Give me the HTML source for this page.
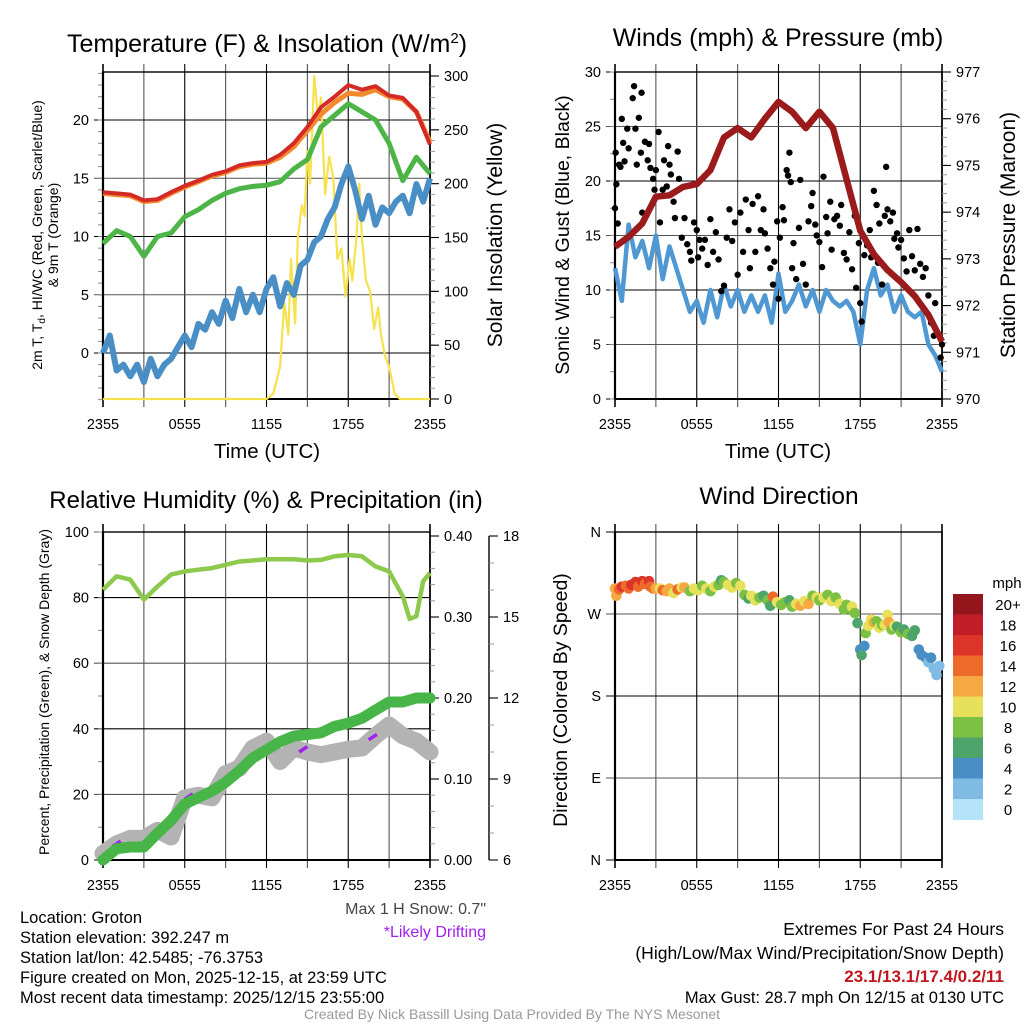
<!DOCTYPE html>
<html><head><meta charset="utf-8">
<style>
html,body{margin:0;padding:0;background:#fff;}
body{width:1024px;height:1024px;overflow:hidden;font-family:"Liberation Sans",sans-serif;}
svg text{font-family:"Liberation Sans",sans-serif;fill:#000;}
.nar{font-family:"Liberation Sans Narrow","Liberation Sans",sans-serif;}
</style></head>
<body>
<svg id="chart" width="1024" height="1024" viewBox="0 0 1024 1024" xmlns="http://www.w3.org/2000/svg">
<rect width="1024" height="1024" fill="#fff"/>
<g id="g1"></g>
<g id="g2"></g>
<g id="g3"></g>
<g id="g4"></g>
<g class="nar">
<text x="20" y="923" font-size="16.5" class="nar">Location: Groton</text>
<text x="20" y="943" font-size="16.5" class="nar">Station elevation: 392.247 m</text>
<text x="20" y="963" font-size="16.5" class="nar">Station lat/lon: 42.5485; -76.3753</text>
<text x="20" y="983" font-size="16.5" class="nar">Figure created on Mon, 2025-12-15, at 23:59 UTC</text>
<text x="20" y="1003" font-size="16.5" class="nar">Most recent data timestamp: 2025/12/15 23:55:00</text>
<text x="486" y="914" font-size="16" text-anchor="end" style="fill:#444" class="nar">Max 1 H Snow: 0.7"</text>
<text x="486" y="937" font-size="16" text-anchor="end" style="fill:#a020f0" class="nar">*Likely Drifting</text>
<text x="1004" y="935" font-size="17.5" text-anchor="end" class="nar">Extremes For Past 24 Hours</text>
<text x="1004" y="959" font-size="17.5" text-anchor="end" class="nar">(High/Low/Max Wind/Precipitation/Snow Depth)</text>
<text x="1004" y="982" font-size="17" text-anchor="end" font-weight="bold" style="fill:#c0171e" class="nar">23.1/13.1/17.4/0.2/11</text>
<text x="1004" y="1003" font-size="16.5" text-anchor="end" class="nar">Max Gust: 28.7 mph On 12/15 at 0130 UTC</text>
<text x="512" y="1019" font-size="14" text-anchor="middle" style="fill:#999" class="nar">Created By Nick Bassill Using Data Provided By The NYS Mesonet</text>
</g>
</svg>
<script>
// ---------- data ----------
const timeTickLabels = ["2355","0555","1155","1755","2355"];
const hours = [0,1,2,3,4,5,6,7,8,9,10,11,12,13,14,15,16,17,18,19,20,21,22,23,24];
const temp2m = [13.8,13.7,13.6,13.1,13.2,13.8,14.35,14.8,15.3,15.6,16.1,16.3,16.4,17.0,18.0,19.4,21.1,22.0,23.0,22.6,22.9,22.1,21.9,20.7,17.9];
const temp9m = [13.7,13.6,13.5,13.0,13.1,13.7,14.25,14.7,15.2,15.5,16.0,16.2,16.3,16.8,17.7,19.1,20.5,21.5,22.3,22.2,22.6,22.0,21.8,20.7,18.1];
const dewHiWc = [9.4,10.5,10.0,8.3,10.0,10.3,11.7,12.3,13.1,13.7,14.1,14.3,14.4,14.7,15.8,16.6,19.4,20.4,21.4,20.7,20.0,18.0,14.8,16.8,15.4];
const halfHours = [0,0.5,1,1.5,2,2.5,3,3.5,4,4.5,5,5.5,6,6.5,7,7.5,8,8.5,9,9.5,10,10.5,11,11.5,12,12.5,13,13.5,14,14.5,15,15.5,16,16.5,17,17.5,18,18.5,19,19.5,20,20.5,21,21.5,22,22.5,23,23.5,24];
const dewpoint = [0,1.5,-1.5,-1.0,-2.0,-1.0,-2.5,-0.5,-2.0,-1.0,-0.5,0.5,1.5,0.5,2.5,2.0,3.5,2.5,4.5,3.0,5.5,3.5,5.0,3.5,5.5,6.5,4.0,6.0,5.0,7.5,8.0,9.5,10.0,11.5,12.5,14.5,16.0,14.0,11.5,13.5,11.0,12.5,12.0,13.0,13.5,12.0,14.5,13.0,15.0];
const solarT = [0,12.0,12.5,13.0,13.3,13.6,13.8,14.1,14.3,14.6,14.8,15.0,15.2,15.5,15.8,16.0,16.3,16.6,16.9,17.2,17.5,17.8,18.1,18.3,18.6,18.8,19.0,19.3,19.6,19.9,20.2,20.4,20.7,21.0,21.4,21.8,24];
const solarV = [0,0,5,30,90,60,130,70,150,180,170,230,200,300,260,280,190,225,205,130,140,95,130,110,150,200,150,110,100,65,85,60,40,30,5,0,0];
const tempTicks = [0,5,10,15,20];
const solarTicks = [0,50,100,150,200,250,300];

const pressure = [973.26,973.47,973.76,974.33,974.36,974.54,974.6,974.9,975.6,975.8,975.6,976.0,976.36,976.15,975.8,976.15,975.8,974.7,973.6,973.1,972.76,972.5,972.2,971.8,971.23];
const windSpeed = [12,9,16,13,14.5,12,15,11,14,12,10,8,9,7,10,7.5,10.5,8.5,10,8,9.5,8,9.5,7,11.5,8,9,10.5,8.5,10,8,10,9,8.5,9,8,5,10,12,9.5,10.5,8,9.5,8,7.5,8,5,4,2.5];
const gustT = [0.0,0.05,0.1,0.2,0.3,0.4,0.5,0.6,0.7,0.9,1.0,1.3,1.4,1.5,1.6,1.75,1.95,1.9,2.0,2.2,2.4,2.5,2.6,2.8,2.9,3.0,3.2,3.3,3.5,3.6,3.8,3.9,4.0,4.1,4.3,4.4,4.6,4.7,4.9,5.1,5.3,5.5,5.6,5.8,6.0,6.1,6.2,6.4,6.6,6.8,7.0,7.2,7.4,7.6,7.8,8.0,8.2,8.4,8.6,8.8,9.0,9.2,9.4,9.6,9.8,9.9,10.1,10.3,10.5,10.7,10.9,11.0,11.2,11.4,11.6,11.7,11.9,12.0,12.1,12.3,12.4,12.6,12.7,12.8,12.9,13.0,13.1,13.3,13.5,13.6,13.8,14.0,14.2,14.4,14.5,14.7,14.8,15.0,15.2,15.3,15.5,15.6,15.8,15.9,16.1,16.3,16.5,16.6,16.8,17.0,17.2,17.4,17.6,17.7,17.9,18.0,18.1,18.3,18.5,18.7,18.8,19.0,19.2,19.3,19.4,19.6,19.8,19.9,20.0,20.2,20.4,20.5,20.7,20.8,21.0,21.2,21.4,21.6,21.8,22.0,22.2,22.4,22.6,22.8,23.0,23.2,23.4,23.5,23.7,23.9,24.0];
const gustV = [17.5,22.6,19.7,16.1,21.5,21.3,25.7,23.5,21.8,24.8,23.0,27.6,28.7,24.8,21.5,25.8,28.1,22.6,17.1,23.6,21.9,23.4,21.2,20.2,19.2,21.0,24.5,16.2,19.2,21.9,19.5,23.2,21.5,20.6,18.1,16.6,22.7,20.2,14.8,16.6,14.2,13.5,12.7,16.2,15.5,13.0,14.6,13.8,14.6,12.3,16.5,13.5,15.3,12.8,9.9,10.4,14.8,17.4,14.5,16.2,11.4,17.1,13.5,18.3,15.5,12.0,17.9,13.5,18.6,15.5,17.4,15.2,13.8,12.0,10.5,12.6,16.3,9.2,14.8,17.6,16.4,21.0,20.5,22.6,19.9,12.0,14.3,11.0,15.7,20.1,12.4,10.5,16.3,17.7,18.9,16.0,15.0,14.4,12.1,20.4,16.7,15.2,18.1,13.7,16.5,16.8,15.9,17.8,13.4,12.8,15.3,11.9,16.8,10.2,14.3,8.8,7.1,13.2,14.1,15.5,13.0,19.1,17.8,12.5,16.1,10.5,16.8,21.3,17.4,16.3,17.1,14.7,15.2,13.9,14.6,12.9,11.7,15.5,13.1,11.8,15.6,12.4,11.2,12.0,9.5,7.0,5.8,8.8,6.0,3.8,5.0];
const windTicks = [0,5,10,15,20,25,30];
const pressTicks = [970,971,972,973,974,975,976,977];

const rhT = [0,1,2,3,4,5,6,7,8,9,10,11,12,13,14,15,16,17,18,19,20,21,22,22.5,23,23.5,24];
const rhV = [82.4,86.5,85.5,79.4,83.4,87,88,88.5,89,90,91,91.3,91.7,91.7,91.7,91.3,91.5,92.6,93,92.6,89.5,88,80.4,73.5,74.3,85,87.5];
const precip = [0,0.014,0.016,0.016,0.033,0.049,0.069,0.077,0.085,0.096,0.11,0.126,0.136,0.146,0.153,0.155,0.157,0.165,0.169,0.175,0.185,0.195,0.195,0.2,0.2];
const snowDepth = [6.24,6.6,6.8,6.8,7.1,6.85,8.3,8.4,8.3,9.2,9.4,10.15,10.4,9.65,10.15,10.0,9.9,10.0,10.1,10.15,10.6,11.0,10.6,10.4,10.0];
const driftT = [1.0,6.3,9.5,14.7,19.8];
const driftV = [6.6,8.35,9.25,10.1,10.55];
const rhTicks = [0,20,40,60,80,100];
const precipTicks = [0,0.1,0.2,0.3,0.4];
const precipLabels = ["0.00","0.10","0.20","0.30","0.40"];
const snowTicks = [6,9,12,15,18];

const dirT = [0,0.1,0.3,0.5,0.8,1.0,1.2,1.5,1.7,2.0,2.2,2.5,2.6,2.8,3.0,3.3,3.5,3.8,4.0,4.3,4.6,4.9,5.1,5.5,5.8,6.1,6.4,6.7,7.0,7.3,7.6,7.8,8.0,8.3,8.6,8.9,9.2,9.5,9.8,10.0,10.3,10.6,10.9,11.2,11.4,11.6,11.9,12.2,12.5,12.8,13.0,13.3,13.6,13.9,14.2,14.5,14.8,15.0,15.3,15.6,15.9,16.2,16.5,16.8,17.0,17.2,17.4,17.6,17.8,18.0,18.1,18.3,18.4,18.6,18.8,19.0,19.2,19.4,19.6,19.8,20.0,20.1,20.3,20.5,20.7,21.0,21.2,21.5,21.8,22.0,22.3,22.5,22.8,23.0,23.2,23.4,23.6,23.8];
const dirV = [298,290,297,300,301,298,302,305,300,306,303,306,300,298,298,298,296,295,298,293,297,299,299,295,298,296,301,298,295,300,302,307,305,302,299,304,301,291,287,290,285,288,290,285,279,289,283,280,283,285,278,281,279,284,281,290,288,285,288,291,284,288,281,275,280,276,278,271,260,231,225,235,249,257,264,261,262,255,258,258,269,261,253,257,256,250,253,248,246,252,231,225,222,217,222,210,203,213];
const dirSpeed = [12,12,14,16,15,14,16,17,15,16,15,17,14,14,12,10,14,12,12,10,14,10,12,8,10,10,8,10,8,10,8,6,8,10,10,8,10,8,6,10,10,8,6,8,6,14,10,8,8,6,8,10,12,10,12,8,10,8,10,8,10,8,10,8,8,8,10,8,6,4,6,4,8,10,10,12,8,10,8,10,10,12,8,10,6,8,6,8,6,6,4,4,4,2,4,2,2,2];
const dirTicks = [0,90,180,270,360];
const dirLabels = ["N","E","S","W","N"];
const speedBinLabels = ["0","2","4","6","8","10","12","14","16","18","20+"];
const speedColors = ["#b5e3f7","#7fbbe3","#4a8ec6","#4da56b","#7cc144","#e6e05a","#f6a843","#ee6a2b","#dc3429","#c11d26","#92161b"];

// ---------- helpers ----------
const NS = "http://www.w3.org/2000/svg";
function mk(parent, tag, attrs){
  const e = document.createElementNS(NS, tag);
  for (const k in attrs) e.setAttribute(k, attrs[k]);
  parent.appendChild(e);
  return e;
}
function txt(parent, x, y, s, size, anchor, extra){
  const e = mk(parent, "text", Object.assign({x:x, y:y, "font-size":size, "text-anchor":anchor||"middle"}, extra||{}));
  e.textContent = s;
  return e;
}
function linear(d0,d1,r0,r1){ return v => r0 + (v-d0)*(r1-r0)/(d1-d0); }
function pathFrom(xs, ys, fx, fy){
  let d = "";
  for (let i=0;i<xs.length;i++) d += (i?"L":"M") + fx(xs[i]).toFixed(1) + "," + fy(ys[i]).toFixed(1);
  return d;
}
function frame(g, L, R, T, B, fx, yTicks, fy, yLabels, minorStep, yMin, yMax){
  for (let h=0; h<=24; h+=3){
    const x = fx(h);
    const gl = mk(g,"line",{x1:x,x2:x,y1:T-8,y2:B+8,stroke:(h%6===0)?"#000":"#555","stroke-width":(h===0||h===24)?1.6:1.1});
    
    
  }
  yTicks.forEach((v,i)=>{
    const y = fy(v);
    const hl = mk(g,"line",{x1:L-9,x2:R,y1:y,y2:y,stroke:(i%2)?"#555":"#000","stroke-width":1.1});
    
    
    const tl = txt(g, L-14, y+5, yLabels?yLabels[i]:String(v), 14.5, "end");
    
    
  });
  if (minorStep){
    for (let v=yMin; v<=yMax+1e-9; v+=minorStep){
      const y = fy(v);
      mk(g,"line",{x1:L-5,x2:L,y1:y,y2:y,stroke:"#888","stroke-width":1});
    }
  }
  const br = mk(g,"rect",{x:L,y:T,width:R-L,height:B-T,fill:"none",stroke:"#000","stroke-width":1.4});
  
  
  mk(g,"line",{x1:L,x2:L,y1:T,y2:B,stroke:"#000","stroke-width":2.2});
  mk(g,"line",{x1:L,x2:R,y1:B,y2:B,stroke:"#000","stroke-width":2});
  timeTickLabels.forEach((s,i)=>{
    const t = txt(g, fx(i*6), B+30, s, 14.5, "middle");
    
    
  });
}
function rightAxis(g, xAx, ticks, fy, labels, minorStep, vMin, vMax, lineTop, lineBot, drawLine){
  if (drawLine) mk(g,"line",{x1:xAx,x2:xAx,y1:lineTop,y2:lineBot,stroke:"#000","stroke-width":1.4});
  if (minorStep){
    for (let v=vMin; v<=vMax+1e-9; v+=minorStep){
      const y=fy(v);
      mk(g,"line",{x1:xAx,x2:xAx+5,y1:y,y2:y,stroke:"#999","stroke-width":1});
    }
  }
  ticks.forEach((v,i)=>{
    const y=fy(v);
    mk(g,"line",{x1:xAx,x2:xAx+9,y1:y,y2:y,stroke:"#000","stroke-width":1.1});
    const t = txt(g, xAx+14, y+5, labels?labels[i]:String(v), 14.5, "start");
    
    
  });
}

// ---------- Panel 1: Temperature ----------
(function(){
  const g = document.getElementById("g1");
  const L=103,R=430,T=72,B=399;
  const fx = linear(0,24,L,R), fy = linear(0,20,353,120), fs = linear(0,300,399,76);
  frame(g,L,R,T,B,fx,tempTicks,fy,null,1,-4,24);
  rightAxis(g,R,solarTicks,fs,null,10,0,300);
  const yl = mk(g,"path",{d:pathFrom(solarT,solarV,fx,fs),fill:"none",stroke:"#f7e14c","stroke-width":2.2,"stroke-linejoin":"round"});
  
  
  const bl = mk(g,"path",{d:pathFrom(halfHours,dewpoint,fx,fy),fill:"none",stroke:"#4a8ec6","stroke-width":6,"stroke-linejoin":"round"});
  
  
  const gl = mk(g,"path",{d:pathFrom(hours,dewHiWc,fx,fy),fill:"none",stroke:"#4db448","stroke-width":5,"stroke-linejoin":"round"});
  
  
  const ol = mk(g,"path",{d:pathFrom(hours,temp9m,fx,fy),fill:"none",stroke:"#f38a2d","stroke-width":5,"stroke-linejoin":"round"});
  
  
  const rl = mk(g,"path",{d:pathFrom(hours,temp2m,fx,fy),fill:"none",stroke:"#d42a26","stroke-width":4,"stroke-linejoin":"round"});
  
  
  const ti = txt(g,267,52,"",25,"middle");
  ti.innerHTML = 'Temperature (F) &amp; Insolation (W/m<tspan dy="-9" font-size="15">2</tspan><tspan dy="9">)</tspan>';
  
  
  const xl = txt(g,267,458,"Time (UTC)",20.5,"middle");
  
  
  const y1 = txt(g,0,0,"",14,"middle",{transform:"translate(42,235) rotate(-90)"});
  y1.innerHTML = '2m T, T<tspan dy="3" font-size="10">d</tspan><tspan dy="-3">, HI/WC (Red, Green, Scarlet/Blue)</tspan>';
  
  
  const y2 = txt(g,0,0,"& 9m T (Orange)",14,"middle",{transform:"translate(58,235) rotate(-90)"});
  
  
  const yr = txt(g,0,0,"Solar Insolation (Yellow)",21,"middle",{transform:"translate(502,235) rotate(-90)"});
  
  
})();

// ---------- Panel 2: Winds ----------
(function(){
  const g = document.getElementById("g2");
  const L=615,R=942,T=72,B=399;
  const fx = linear(0,24,L,R), fy = linear(0,30,399,72), fp = linear(970,977,399,72);
  frame(g,L,R,T,B,fx,windTicks,fy,null,2.5,0,30);
  rightAxis(g,R,pressTicks,fp,null,0.2,970,977);
  const wl = mk(g,"path",{d:pathFrom(halfHours,windSpeed,fx,fy),fill:"none",stroke:"#4f98d3","stroke-width":4.5,"stroke-linejoin":"round"});
  
  
  for (let i=0;i<gustT.length;i++){
    const c = mk(g,"circle",{cx:fx(gustT[i]),cy:fy(gustV[i]),r:3.2,fill:"#000"});
    
    
  }
  const pl = mk(g,"path",{d:pathFrom(hours,pressure,fx,fp),fill:"none",stroke:"#9b1a1c","stroke-width":6.5,"stroke-linejoin":"round"});
  
  
  const ti = txt(g,778,46,"Winds (mph) & Pressure (mb)",25,"middle");
  
  
  const xl = txt(g,778,458,"Time (UTC)",20.5,"middle");
  
  
  const yl = txt(g,0,0,"Sonic Wind & Gust (Blue, Black)",19.5,"middle",{transform:"translate(569,235) rotate(-90)"});
  
  
  const yr = txt(g,0,0,"Station Pressure (Maroon)",21,"middle",{transform:"translate(1015,235) rotate(-90)"});
  
  
})();

// ---------- Panel 3: Humidity ----------
(function(){
  const g = document.getElementById("g3");
  const L=103,R=430,T=532,B=860;
  const fx = linear(0,24,L,R), fy = linear(0,100,860,532), fp = linear(0,0.4,860,536), fsn = linear(6,18,860,536);
  frame(g,L,R,T,B,fx,rhTicks,fy,null,10,0,100);
  rightAxis(g,R,precipTicks,fp,precipLabels,0.02,0,0.4);
  rightAxis(g,489,snowTicks,fsn,null,1,6,18,536,860,true);
  const sl = mk(g,"path",{d:pathFrom(hours,snowDepth,fx,fsn),fill:"none",stroke:"#b3b3b3","stroke-width":17,"stroke-linejoin":"round","stroke-linecap":"round"});
  
  
  for (let i=0;i<driftT.length;i++){
    const d = mk(g,"line",{x1:fx(driftT[i]-0.3),y1:fsn(driftV[i]-0.1),x2:fx(driftT[i]+0.3),y2:fsn(driftV[i]+0.1),stroke:"#a020f0","stroke-width":3.5});
    
    
  }
  const pl = mk(g,"path",{d:pathFrom(hours,precip,fx,fp),fill:"none",stroke:"#47b548","stroke-width":11,"stroke-linejoin":"round","stroke-linecap":"round"});
  
  
  const rl = mk(g,"path",{d:pathFrom(rhT,rhV,fx,fy),fill:"none",stroke:"#8dc94c","stroke-width":4.5,"stroke-linejoin":"round"});
  
  
  const ti = txt(g,266,508,"Relative Humidity (%) & Precipitation (in)",24,"middle");
  
  
  const yl = txt(g,0,0,"Percent, Precipitation (Green), & Snow Depth (Gray)",14,"middle",{transform:"translate(49,692) rotate(-90)"});
  
  
})();

// ---------- Panel 4: Wind Direction ----------
(function(){
  const g = document.getElementById("g4");
  const L=615,R=942,T=532,B=860;
  const fx = linear(0,24,L,R), fy = linear(0,360,860,532);
  frame(g,L,R,T,B,fx,dirTicks,fy,dirLabels,0,0,0);
  for (let i=0;i<dirT.length;i++){
    const bin = Math.min(10, Math.max(0, Math.floor(dirSpeed[i]/2)));
    const c = mk(g,"circle",{cx:fx(dirT[i]),cy:fy(dirV[i]),r:5.3,fill:speedColors[bin]});
    
    
  }
  const cbTop=594, cbH=20.5;
  for (let k=0;k<speedColors.length;k++){
    const idx = speedColors.length-1-k;
    const r = mk(g,"rect",{x:953,y:cbTop+k*cbH,width:30,height:cbH+0.5,fill:speedColors[idx]});
    
    
    const t = txt(g,1008,cbTop+k*cbH+16,speedBinLabels[idx],15,"middle");
    
    
  }
  const u = txt(g,1007,588,"mph",15,"middle");
  
  
  const ti = txt(g,779,504,"Wind Direction",24.5,"middle");
  
  
  const yl = txt(g,0,0,"Direction (Colored By Speed)",19.5,"middle",{transform:"translate(567,700) rotate(-90)"});
  
  
})();
</script>
</body></html>
